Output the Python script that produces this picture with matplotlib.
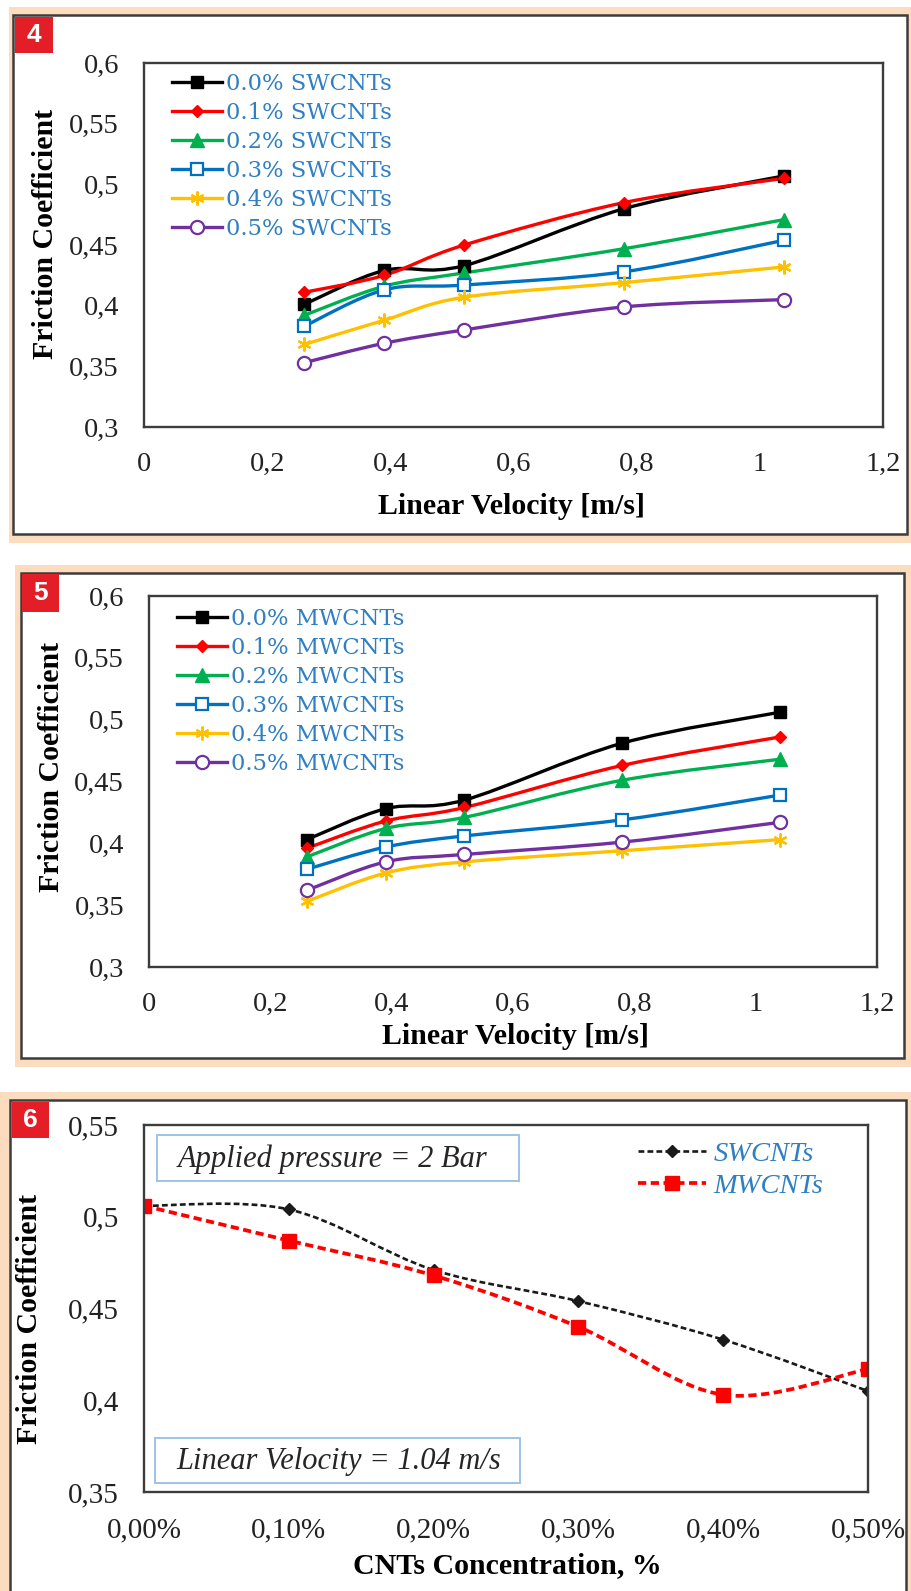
import matplotlib
matplotlib.use("Agg")
import matplotlib.pyplot as plt
import numpy as np
from matplotlib.lines import Line2D
from matplotlib.patches import PathPatch, Rectangle
from matplotlib.path import Path
from matplotlib.ticker import FuncFormatter

W, H = 911, 1591

# ---- data ----
velocity = [0.26, 0.39, 0.52, 0.78, 1.04]
fractions = ["0.0%", "0.1%", "0.2%", "0.3%", "0.4%", "0.5%"]

sw_friction = [
    [0.401, 0.429, 0.433, 0.480, 0.507],
    [0.411, 0.425, 0.450, 0.485, 0.505],
    [0.392, 0.416, 0.427, 0.447, 0.471],
    [0.383, 0.413, 0.417, 0.428, 0.454],
    [0.368, 0.388, 0.407, 0.419, 0.432],
    [0.353, 0.369, 0.380, 0.399, 0.405],
]
mw_friction = [
    [0.403, 0.428, 0.435, 0.481, 0.506],
    [0.396, 0.418, 0.429, 0.463, 0.486],
    [0.389, 0.412, 0.421, 0.451, 0.468],
    [0.379, 0.397, 0.406, 0.419, 0.439],
    [0.353, 0.376, 0.385, 0.394, 0.403],
    [0.362, 0.385, 0.391, 0.401, 0.417],
]

concentration = [0.0, 0.1, 0.2, 0.3, 0.4, 0.5]
sw_at_104 = [0.506, 0.504, 0.471, 0.454, 0.433, 0.405]
mw_at_104 = [0.506, 0.487, 0.468, 0.440, 0.403, 0.417]

# ---- styles ----
PEACH = "#FBDCBE"
BADGE = "#E41E26"
FRAME = "#3c3c3c"
LEGEND_BLUE = "#2F7FC1"

series_styles = [
    dict(color="#000000", marker="s", markersize=9, mfc="#000000"),
    dict(color="#FF0000", marker="D", markersize=6.5, mfc="#FF0000"),
    dict(color="#00B050", marker="^", markersize=9.5, mfc="#00B050"),
    dict(color="#0070C0", marker="s", markersize=9, mfc="white", mew=1.6),
    dict(color="#FFC000", marker=(6, 2, 0), markersize=10, mfc="#FFC000", mew=1.6),
    dict(color="#7030A0", marker="o", markersize=9.5, mfc="white", mew=1.6),
]

plt.rcParams["font.family"] = ["Liberation Serif", "DejaVu Serif"]


def fbox(l, t, r, b):
    return [l / W, 1 - b / H, (r - l) / W, (b - t) / H]


def fx(px):
    return px / W


def fy(py):
    return 1 - py / H


def smooth_path(x, y):
    # excel-like smoothed line: catmull-rom segments as cubic beziers
    pts = np.column_stack([x, y]).astype(float)
    p = np.vstack([pts[0], pts, pts[-1]])
    verts = [pts[0]]
    codes = [Path.MOVETO]
    for i in range(1, len(p) - 2):
        p0, p1, p2, p3 = p[i - 1], p[i], p[i + 1], p[i + 2]
        verts += [p1 + (p2 - p0) / 6, p2 - (p3 - p1) / 6, p2]
        codes += [Path.CURVE4] * 3
    return Path(verts, codes)


def comma(v, _=None):
    return f"{round(v, 2):g}".replace(".", ",")


def panel_frame(fig, peach, inner, badge, number):
    l, t, r, b = peach
    fig.add_artist(Rectangle((fx(l), fy(b)), fx(r - l), (b - t) / H, transform=fig.transFigure,
                             facecolor=PEACH, edgecolor="none", zorder=-10))
    l, t, r, b = inner
    fig.add_artist(Rectangle((fx(l), fy(b)), fx(r - l), (b - t) / H, transform=fig.transFigure,
                             facecolor="white", edgecolor=FRAME, linewidth=1.8, zorder=-9))
    l, t, r, b = badge
    fig.add_artist(Rectangle((fx(l), fy(b)), fx(r - l), (b - t) / H, transform=fig.transFigure,
                             facecolor=BADGE, edgecolor="none", zorder=5))
    fig.text(fx((l + r) / 2), fy((t + b) / 2), number, color="white", fontsize=19, fontweight="bold",
             family="Liberation Sans", ha="center", va="center", zorder=6)


def style_axes(ax, fig, tick_size, ylabel_xy, xlabel_xy, xlabel):
    for sp in ax.spines.values():
        sp.set_color(FRAME)
        sp.set_linewidth(1.7)
    ax.set_facecolor("none")
    ax.tick_params(length=0, pad=18, labelsize=tick_size, colors="#222222")
    ax.set_ylabel("Friction Coefficient", fontsize=21.5, fontweight="bold", va="center", ha="center")
    ax.yaxis.set_label_coords(fx(ylabel_xy[0]), fy(ylabel_xy[1]), transform=fig.transFigure)
    ax.set_xlabel(xlabel, fontsize=21.5, fontweight="bold", va="center", ha="center")
    ax.xaxis.set_label_coords(fx(xlabel_xy[0]), fy(xlabel_xy[1]), transform=fig.transFigure)


def velocity_panel(fig, axbox, data, tag, legend_xy, ylabel_xy, xlabel_xy):
    ax = fig.add_axes(fbox(*axbox))
    handles = []
    for vals, st, frac in zip(data, series_styles, fractions):
        ax.add_patch(PathPatch(smooth_path(velocity, vals), facecolor="none", edgecolor=st["color"],
                               linewidth=2.4, capstyle="round", joinstyle="round"))
        ax.plot(velocity, vals, linestyle="none", marker=st["marker"], markersize=st["markersize"],
                color=st["color"], mfc=st["mfc"], mew=st.get("mew", 1.0))
        handles.append(Line2D([], [], color=st["color"], linewidth=2.4, marker=st["marker"],
                              markersize=st["markersize"], mfc=st["mfc"], mew=st.get("mew", 1.0),
                              label=f"{frac} {tag}"))
    ax.set_xlim(0, 1.2)
    ax.set_ylim(0.3, 0.6)
    ax.set_xticks(np.arange(0, 1.21, 0.2))
    ax.set_yticks(np.arange(0.3, 0.601, 0.05))
    ax.xaxis.set_major_formatter(FuncFormatter(comma))
    ax.yaxis.set_major_formatter(FuncFormatter(comma))
    style_axes(ax, fig, 20.5, ylabel_xy, xlabel_xy, "Linear Velocity [m/s]")
    ax.legend(handles=handles, loc="upper left", bbox_to_anchor=(fx(legend_xy[0]), fy(legend_xy[1])),
              bbox_transform=fig.transFigure, frameon=False, borderaxespad=0, borderpad=0,
              handlelength=2.2, handletextpad=0.2, labelspacing=0.31, labelcolor=LEGEND_BLUE,
              prop=dict(family="DejaVu Serif", size=16.3))
    return ax


fig = plt.figure(figsize=(W / 100, H / 100), dpi=100)
fig.patch.set_facecolor("white")

# panel 4: SWCNTs
panel_frame(fig, (9, 7, 911, 543), (13, 15, 907, 534), (15, 17, 53, 53), "4")
velocity_panel(fig, (144, 63, 883, 427), sw_friction, "SWCNTs", (172, 73), (46, 234), (512, 506))

# panel 5: MWCNTs
panel_frame(fig, (15, 565, 911, 1067), (21, 573, 904, 1058), (22, 574, 59, 612), "5")
velocity_panel(fig, (149, 596, 877, 967), mw_friction, "MWCNTs", (177, 608), (52, 767), (515, 1036))

# panel 6: friction vs concentration
panel_frame(fig, (0, 1092, 911, 1600), (10, 1100, 906, 1600), (12, 1102, 49, 1138), "6")
ax3 = fig.add_axes(fbox(144, 1125, 868, 1492))
sw_style = dict(color="#1a1a1a", marker="D", markersize=6.5, lw=1.9)
mw_style = dict(color="#FF0000", marker="s", markersize=10, lw=2.7)
for vals, st in [(sw_at_104, sw_style), (mw_at_104, mw_style)]:
    ax3.add_patch(PathPatch(smooth_path(concentration, vals), facecolor="none", edgecolor=st["color"],
                            linewidth=st["lw"], linestyle=(0, (2.2, 1.2))))
    ax3.plot(concentration, vals, linestyle="none", marker=st["marker"], markersize=st["markersize"],
             color=st["color"])
ax3.set_xlim(0, 0.5)
ax3.set_ylim(0.35, 0.55)
ax3.set_xticks(concentration)
ax3.set_yticks(np.arange(0.35, 0.551, 0.05))
ax3.xaxis.set_major_formatter(FuncFormatter(lambda v, _: f"{v:.2f}%".replace(".", ",")))
ax3.yaxis.set_major_formatter(FuncFormatter(comma))
style_axes(ax3, fig, 21, (30, 1319), (507, 1566), "CNTs Concentration, %")

h3 = [Line2D([], [], color=st["color"], linewidth=st["lw"], linestyle=(0, (2.2, 1.2)),
             marker=st["marker"], markersize=st["markersize"], label=lab)
      for st, lab in [(sw_style, "SWCNTs"), (mw_style, "MWCNTs")]]
ax3.legend(handles=h3, loc="upper left", bbox_to_anchor=(fx(638), fy(1141)), bbox_transform=fig.transFigure,
           frameon=False, borderaxespad=0, borderpad=0, handlelength=2.4, handletextpad=0.25,
           labelspacing=0.2, labelcolor=LEGEND_BLUE, prop=dict(style="italic", size=20.5))

# condition boxes
for (l, t, r, b), txt in [((157, 1135, 519, 1181), "Applied pressure = 2 Bar"),
                          ((155, 1438, 520, 1483), "Linear Velocity = 1.04 m/s")]:
    fig.add_artist(Rectangle((fx(l), fy(b)), fx(r - l), (b - t) / H, transform=fig.transFigure,
                             facecolor="white", edgecolor="#9DC3E6", linewidth=1.4, zorder=3))
    fig.text(fx(l + 21), fy((t + b) / 2 + 1), txt, fontsize=22, style="italic", color="#262626",
             ha="left", va="center", zorder=4)

fig.savefig("out.png", dpi=100, facecolor="white")
